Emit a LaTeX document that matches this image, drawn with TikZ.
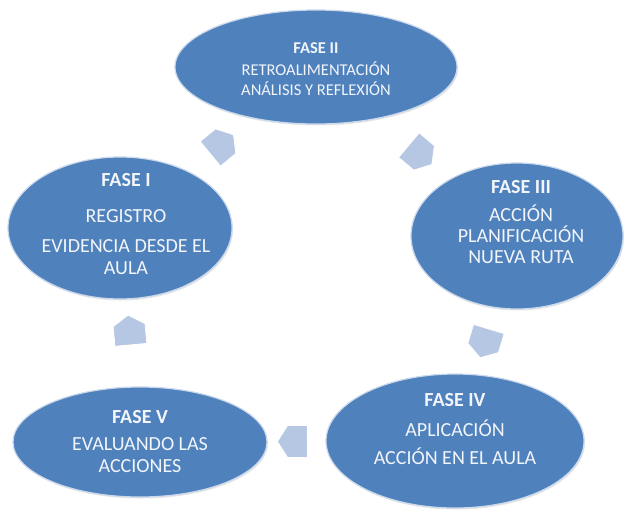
\documentclass[tikz,border=0pt]{standalone}
\usepackage{fontspec}
\setmainfont{Carlito}
\usetikzlibrary{shapes.geometric,shapes.arrows,shadows}
\definecolor{phaseblue}{RGB}{79,129,189}
\definecolor{flowblue}{RGB}{182,199,227}
\definecolor{textwhite}{RGB}{242,245,250}
\tikzset{
 phase/.style={ellipse, inner sep=0pt, fill=phaseblue, draw=white!70!phaseblue, line width=1.2pt,
  drop shadow={opacity=0.2, shadow xshift=1pt, shadow yshift=-1.5pt}},
 phasetext/.style={align=center, text=textwhite, font=\fontsize{20}{22}\selectfont},
 flow/.style={single arrow, single arrow head extend=0pt, single arrow tip angle=115,
  minimum height=30pt, minimum width=32pt, inner sep=0pt, fill=flowblue, draw=white,
  line width=0.8pt, sloped, allow upside down}
}
\begin{document}
\begin{tikzpicture}[x=1pt,y=-1pt]
\useasboundingbox (0,0) rectangle (624,517);
\node[phase, minimum width=224pt, minimum height=142pt] (f1) at (120,228) {};
\node[phase, minimum width=282pt, minimum height=114pt] (f2) at (316,67) {};
\node[phase, minimum width=212pt, minimum height=146pt] (f3) at (517,236) {};
\node[phase, minimum width=258pt, minimum height=134pt] (f4) at (455,441) {};
\node[phase, minimum width=254pt, minimum height=110pt] (f5) at (140,442) {};
\node[phasetext, yshift=4pt, xshift=6pt] (t1) at (f1) {\textbf{FASE I}\\[14pt] REGISTRO\\[8pt] EVIDENCIA DESDE EL\\ AULA};
\node[phasetext, font=\fontsize{16.5}{20}\selectfont, yshift=-2pt] (t2) at (f2) {\textbf{FASE II}\\[2pt] RETROALIMENTACIÓN\\ ANÁLISIS Y REFLEXIÓN};
\node[phasetext, yshift=14pt, xshift=4pt] (t3) at (f3) {\textbf{FASE III}\\[6pt] ACCIÓN\\[-1pt] PLANIFICACIÓN\\[-1pt] NUEVA RUTA};
\node[phasetext, yshift=12pt] (t4) at (f4) {\textbf{FASE IV}\\[8pt] APLICACIÓN\\[6pt] ACCIÓN EN EL AULA};
\node[phasetext] (t5) at (f5) {\textbf{FASE V}\\[5pt] EVALUANDO LAS\\ ACCIONES};
\path (f1.center) -- node[flow, midway] (a1) {} (f2.center);
\path (f2.center) -- node[flow, midway] (a2) {} (f3.center);
\path (f3.center) -- node[flow, midway] (a3) {} (f4.center);
\path (f4.center) -- node[flow, midway] (a4) {} (f5.center);
\path (f5.center) -- node[flow, midway] (a5) {} (f1.center);
\end{tikzpicture}
\end{document}
